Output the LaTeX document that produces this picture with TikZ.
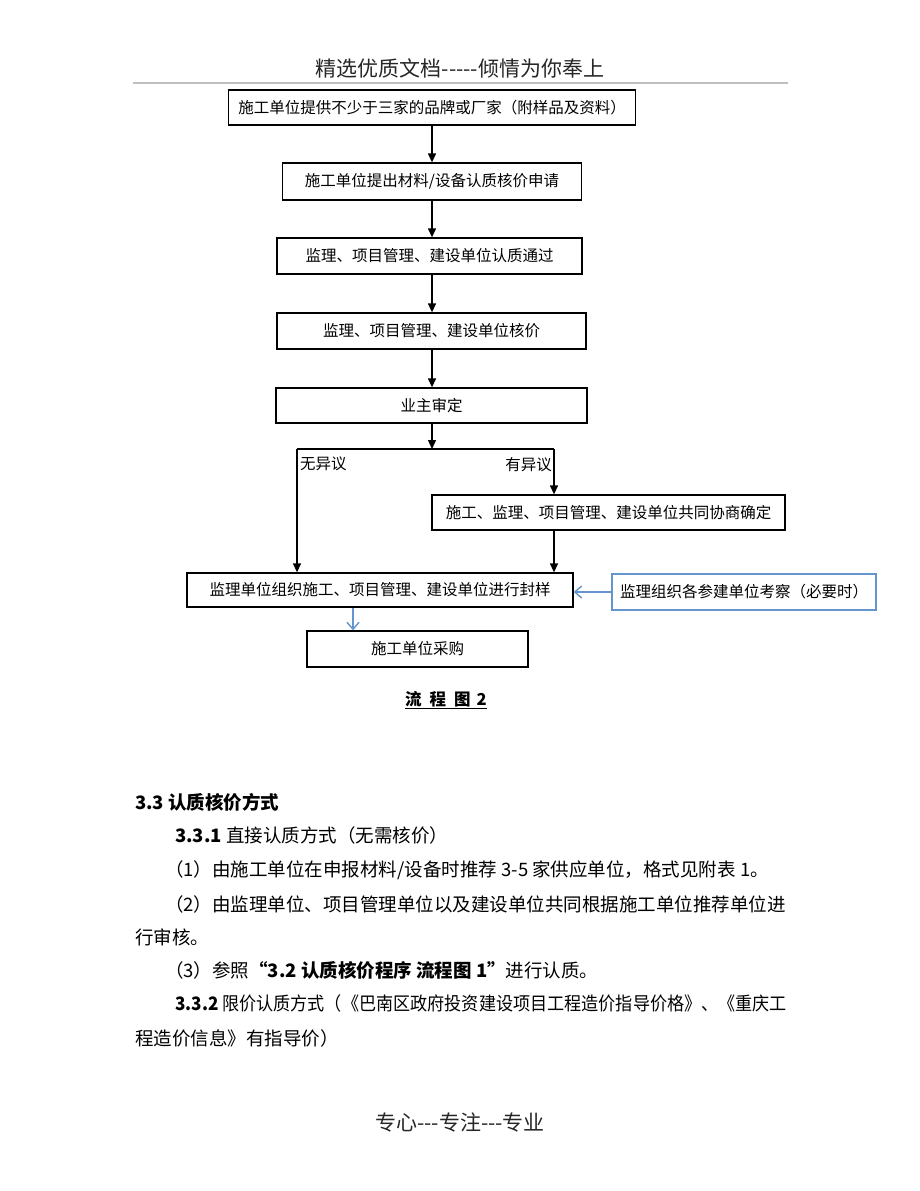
\documentclass[tikz,border=0pt]{standalone}
\usepackage{fontspec}
\setmainfont{Noto Sans CJK SC}[Ligatures=TeXOff]
\usetikzlibrary{arrows.meta}
\definecolor{bl}{RGB}{100,150,205}
\begin{document}
\begin{tikzpicture}[x=1pt,y=-1pt,
  fb/.style={draw, line width=1.3pt, inner sep=0pt, font=\fontsize{15.5}{18}\selectfont},
  bb/.style={draw=bl, line width=1.6pt, inner sep=0pt, font=\fontsize{15.5}{18}\selectfont},
  arr/.style={line width=1.3pt, -{Triangle[length=9pt,width=8pt]}},
  barr/.style={draw=bl, line width=1.4pt, -{Straight Barb[length=7pt,width=12pt]}},
  lbl/.style={inner sep=0pt, font=\fontsize{15.5}{18}\selectfont},
  tl/.style={anchor=west, inner sep=0pt, font=\fontsize{18.5}{20}\selectfont},
  hd/.style={inner sep=0pt, text=black!85, font=\fontsize{21}{24}\selectfont}]
\useasboundingbox (0,0) rectangle (920,1191);
\fill[white] (0,0) rectangle (920,1191);

% header
\node[hd] (hdr) at (460,68) {精选优质文档-----倾情为你奉上};
\coordinate (hl) at (133,83);
\coordinate (hr) at (788,83);
\draw[black!25, line width=1.5pt] (hl) -- (hr);

% boxes
\node[fb, minimum width=407pt, minimum height=35pt] (b1) at (432,107.5) {施工单位提供不少于三家的品牌或厂家（附样品及资料）};
\node[fb, minimum width=299pt, minimum height=37pt] (b2) at (432,181.5) {施工单位提出材料/设备认质核价申请};
\node[fb, minimum width=305pt, minimum height=36pt] (b3) at (429.5,256) {监理、项目管理、建设单位认质通过};
\node[fb, minimum width=309pt, minimum height=36pt] (b4) at (431.5,331) {监理、项目管理、建设单位核价};
\node[fb, minimum width=311pt, minimum height=35pt] (b5) at (431.5,405.5) {业主审定};
\node[fb, minimum width=353pt, minimum height=35pt] (b7) at (608.5,512.5) {施工、监理、项目管理、建设单位共同协商确定};
\node[fb, minimum width=386pt, minimum height=34pt] (b6) at (380,590) {监理单位组织施工、项目管理、建设单位进行封样};
\node[bb, minimum width=264pt, minimum height=36pt] (b8) at (744,592) {监理组织各参建单位考察（必要时）};
\node[fb, minimum width=221pt, minimum height=36pt] (b9) at (417.5,649) {施工单位采购};

% main arrows
\draw[arr] (b1.south) -- (b2.north);
\draw[arr] (b2.south) -- (b2.south |- b3.north);
\draw[arr] (b2.south |- b3.south) -- (b2.south |- b4.north);
\draw[arr] (b2.south |- b4.south) -- (b2.south |- b5.north);
\coordinate (j) at (432,449);
\coordinate (jl) at (297,449);
\coordinate (jr) at (554,449);
\draw[arr] (b2.south |- b5.south) -- (j);
\draw[line width=1.3pt] (jl) -- (jr);
\draw[arr] (jl) -- (jl |- b6.north);
\draw[arr] (jr) -- (jr |- b7.north);
\draw[arr] (b7.south -| jr) -- (b6.north -| jr);
\node[lbl, anchor=north west] (l1) at (300,457) {无异议};
\node[lbl, anchor=north east] (l2) at (552,457) {有异议};

% blue arrows
\draw[barr] (b8.west) -- (b8.west -| b6.east);
\coordinate (c9) at (353,0);
\draw[barr] (b6.south -| c9) -- (b9.north -| c9);

% caption
\node[inner sep=0pt, font=\fontsize{16.5}{18}\selectfont\bfseries] (cap) at (446,700) {\underline{流\hspace{8pt}程\hspace{8pt}图\hspace{6pt}2}};

% text
\node[tl, font=\fontsize{18.5}{20}\selectfont\bfseries] (t1) at (135,802) {3.3 认质核价方式};
\node[tl] (t2) at (175,835) {\textbf{3.3.1} 直接认质方式（无需核价）};
\node[tl] (t3) at (165,870) {（1）由施工单位在申报材料/设备时推荐 3-5 家供应单位，格式见附表 1。};
\node[tl] (t4) at (165,904) {（2）由监理单位、项目管理单位以及建设单位共同根据施工单位推荐单位进};
\node[tl] (t5) at (135,937) {行审核。};
\node[tl] (t6) at (165,970) {（3）参照\textbf{“3.2 认质核价程序 流程图 1”}进行认质。};
\node[tl] (t7) at (175,1003) {\scalebox{0.925}[1]{\textbf{3.3.2} 限价认质方式（《巴南区政府投资建设项目工程造价指导价格》、《重庆工}};
\node[tl] (t8) at (135,1038) {程造价信息》有指导价）};

% footer
\node[hd] (ftr) at (460,1122) {专心---专注---专业};
\end{tikzpicture}
\end{document}
